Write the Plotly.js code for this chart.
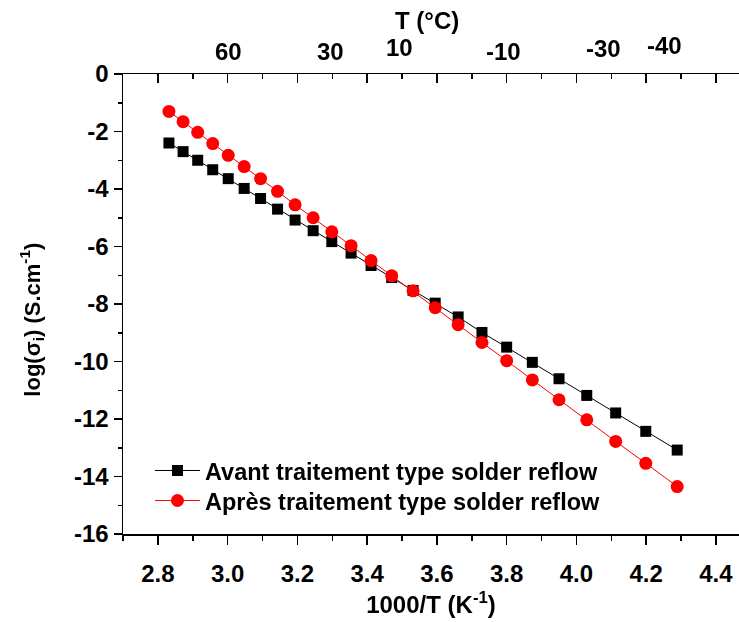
<!DOCTYPE html>
<html>
<head>
<meta charset="utf-8">
<script src="https://cdn.plot.ly/plotly-3.0.1.min.js"></script>
<style>html,body{margin:0;padding:0;background:#fff}#chart{width:739px;height:622px}</style>
</head>
<body>
<div id="chart"></div>
<script>
// 1000/T (K^-1) of each measurement (80 °C down to -40 °C, 5 °C steps)
const invT = [2.8317, 2.8723, 2.9142, 2.9573, 3.0017, 3.0474, 3.0945, 3.1432, 3.1934, 3.2452,
              3.2987, 3.3540, 3.4112, 3.4704, 3.5317, 3.5952, 3.6610, 3.7293, 3.8001, 3.8737,
              3.9502, 4.0298, 4.1127, 4.1990, 4.2891];
// log(sigma_i) before solder reflow treatment
const avant = [-2.40, -2.70, -3.00, -3.33, -3.64, -3.98, -4.33, -4.70, -5.08, -5.45,
               -5.83, -6.23, -6.66, -7.08, -7.53, -7.97, -8.45, -8.99, -9.50, -10.03,
               -10.60, -11.18, -11.79, -12.43, -13.08];
// log(sigma_i) after solder reflow treatment
const apres = [-1.30, -1.66, -2.03, -2.42, -2.83, -3.22, -3.64, -4.08, -4.55, -5.00,
               -5.49, -5.97, -6.49, -7.02, -7.54, -8.13, -8.72, -9.34, -9.97, -10.64,
               -11.33, -12.03, -12.78, -13.54, -14.35];
const seriesNames = ['Avant traitement type solder reflow', 'Après traitement type solder reflow'];
// bottom / left tick labels
const xTickVals = [2.8, 3.0, 3.2, 3.4, 3.6, 3.8, 4.0, 4.2, 4.4];
const xTickText = ['2.8', '3.0', '3.2', '3.4', '3.6', '3.8', '4.0', '4.2', '4.4'];
const yTickVals = [0, -2, -4, -6, -8, -10, -12, -14, -16];
const yTickText = ['0', '-2', '-4', '-6', '-8', '-10', '-12', '-14', '-16'];
// top-axis temperature labels (°C) and where they sit on the 1000/T scale
const topLabels = ['60', '30', '10', '-10', '-30', '-40'];
const topPos = [3.0016, 3.294, 3.493, 3.791, 4.077, 4.252];
const topLift = [0, 0, 4, 0, 3, 6];

const FONT = 'Liberation Sans, Arial, sans-serif';
const f = (s) => ({family: FONT, size: s, color: '#000', weight: 'bold'});

const traces = [
  {x: invT, y: avant, name: seriesNames[0], type: 'scatter', mode: 'lines+markers', legend: 'legend',
   line: {color: '#000', width: 1}, marker: {symbol: 'square', size: 11, color: '#000'}},
  {x: invT, y: apres, name: seriesNames[1], type: 'scatter', mode: 'lines+markers', legend: 'legend2',
   line: {color: '#ff0000', width: 1}, marker: {symbol: 'circle', size: 13, color: '#ff0000'}},
  {x: invT, y: avant, xaxis: 'x2', type: 'scatter', mode: 'markers', opacity: 0,
   showlegend: false, hoverinfo: 'skip'}
];

const annotations = topLabels.map((t, i) => ({
  text: t, x: topPos[i], xref: 'x', y: 1, yref: 'paper', yshift: 23 + topLift[i],
  showarrow: false, font: f(24), xanchor: 'center', yanchor: 'middle'
}));
annotations.push({text: 'T (°C)', x: 0.494, xref: 'paper', y: 1, yref: 'paper', yshift: 54,
  showarrow: false, font: f(24), xanchor: 'center', yanchor: 'middle'});
annotations.push({text: 'log(σ<sub>i</sub>) (S.cm<sup>-1</sup>)', textangle: -90,
  x: -0.1477, xref: 'paper', y: 0.466, yref: 'paper', showarrow: false,
  font: f(22), xanchor: 'center', yanchor: 'middle'});

const legendBase = {x: 0.0438, xanchor: 'left', yanchor: 'top', font: f(23.5),
                    bgcolor: 'rgba(0,0,0,0)', itemwidth: 45};

const layout = {
  width: 739, height: 622,
  margin: {l: 123, r: 0, t: 74, b: 88, pad: 0},
  paper_bgcolor: '#fff', plot_bgcolor: '#fff',
  showlegend: true,
  legend: Object.assign({}, legendBase, {y: 0.1854}),
  legend2: Object.assign({}, legendBase, {y: 0.1202}),
  xaxis: {range: [2.7, 4.4663], showgrid: false, zeroline: false,
          showline: true, linecolor: '#000', linewidth: 1.5,
          ticks: 'outside', ticklen: 9, tickwidth: 1.5, tickcolor: '#000',
          tickvals: xTickVals, ticktext: xTickText, ticklabelstandoff: 9,
          minor: {dtick: 0.1, tick0: 2.7, ticks: 'outside', ticklen: 5, tickwidth: 1.5, tickcolor: '#000', showgrid: false},
          tickfont: f(24),
          title: {text: '1000/T (K<sup>-1</sup>)', font: f(24), standoff: 10}},
  xaxis2: {overlaying: 'x', side: 'top', matches: 'x', anchor: 'y', showgrid: false, zeroline: false,
           showline: true, linecolor: '#000', linewidth: 1.5,
           ticks: 'inside', ticklen: 9, tickwidth: 1.5, tickcolor: '#000',
           tickvals: xTickVals, showticklabels: false,
           minor: {dtick: 0.1, tick0: 2.7, ticks: 'inside', ticklen: 5, tickwidth: 1.5, tickcolor: '#000', showgrid: false}},
  yaxis: {range: [-16, 0], showgrid: false, zeroline: false,
          showline: true, linecolor: '#000', linewidth: 1.5,
          ticks: 'outside', ticklen: 8, tickwidth: 1.5, tickcolor: '#000',
          tickvals: yTickVals, ticktext: yTickText,
          minor: {dtick: 1, ticks: 'outside', ticklen: 4, tickwidth: 1.5, tickcolor: '#000', showgrid: false},
          tickfont: f(24)},
  annotations: annotations
};

Plotly.newPlot('chart', traces, layout, {staticPlot: true, displayModeBar: false});
</script>
</body>
</html>
